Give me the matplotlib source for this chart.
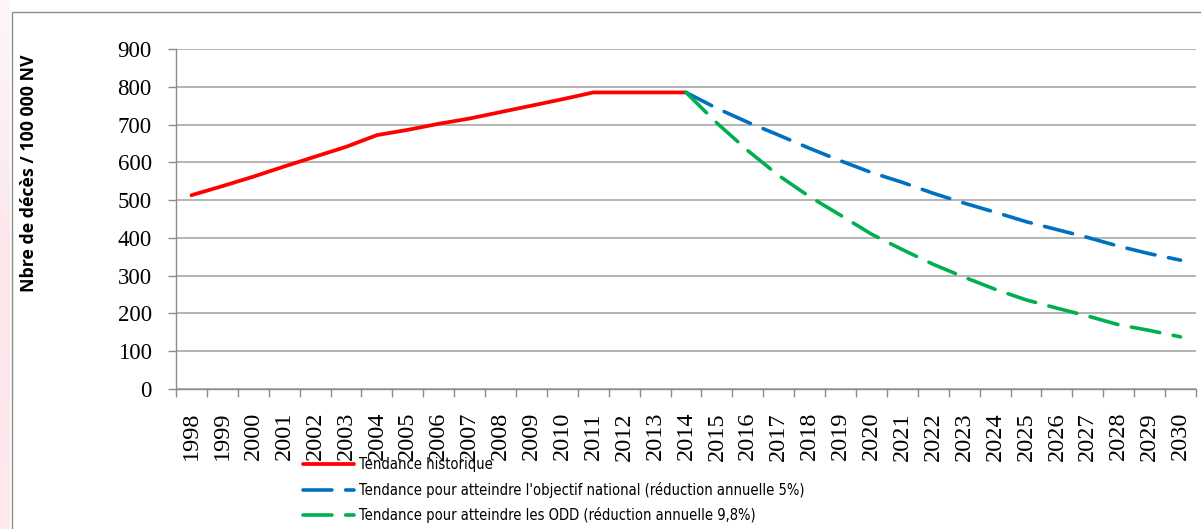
import numpy as np
import matplotlib.pyplot as plt
from matplotlib.lines import Line2D
from matplotlib.ticker import FixedLocator
from matplotlib.colors import LinearSegmentedColormap

# years on the category axis
years = list(range(1998, 2031))

# historical trend 1998-2014
hist_years = list(range(1998, 2015))
hist = [513, 537, 562, 589, 615, 641, 672, 686, 702, 716, 733, 750, 767, 785, 785, 785, 785]

# projections 2014-2030
proj_years = list(range(2014, 2031))
national = [785, 743, 706, 672, 637, 604, 573, 547, 518, 492, 468, 443, 422, 401, 378, 358, 341]
odd = [785, 704, 631, 565, 509, 460, 410, 369, 330, 296, 264, 236, 214, 193, 170, 155, 138]

labels = ["Tendance historique",
          "Tendance pour atteindre l'objectif national (réduction annuelle 5%)",
          "Tendance pour atteindre les ODD (réduction annuelle 9,8%)"]

W, H = 1201, 529
fig = plt.figure(figsize=(W / 100, H / 100), dpi=100)

# pink strip on the far left and the grey frame (left and top edges)
strip = fig.add_axes([0, 0, 10 / W, 1])
grad = np.linspace(0, 1, 100).reshape(-1, 1)
strip.imshow(grad, aspect='auto', extent=[0, 1, 0, 1],
             cmap=LinearSegmentedColormap.from_list('p', ['#fdf6f7', '#fbe6ea', '#fceaed']))
strip.axis('off')
x0, y0 = 11.5 / W, 1 - 11.5 / H
fig.add_artist(Line2D([x0, x0], [0, y0], transform=fig.transFigure, color='#8c8c8c', lw=1.0,
                      solid_capstyle='butt'))
fig.add_artist(Line2D([x0, 1], [y0, y0], transform=fig.transFigure, color='#8c8c8c', lw=1.0,
                      solid_capstyle='butt'))

ax = fig.add_axes([176 / W, 1 - 389 / H, (1196 - 176) / W, (389 - 49) / H])

xi = {y: i for i, y in enumerate(years)}
l1, = ax.plot([xi[y] for y in hist_years], hist, color='#ff0000', lw=2.7,
              solid_capstyle='round', zorder=3)
l2, = ax.plot([xi[y] for y in proj_years], national, color='#0070c0', lw=2.6,
              dashes=(8, 3.8), dash_capstyle='round', zorder=3)
l3, = ax.plot([xi[y] for y in proj_years], odd, color='#00b050', lw=2.6,
              dashes=(8, 3.8), dash_capstyle='round', zorder=3)

ax.set_xlim(-0.5, len(years) - 0.5)
ax.set_ylim(0, 900)
ax.set_yticks(range(0, 901, 100))
ax.yaxis.grid(True, color='#a0a0a0', lw=1.1)
ax.set_axisbelow(True)

ax.set_xticks(range(len(years)))
ax.set_xticklabels([str(y) for y in years], rotation=90, va='top')
ax.xaxis.set_minor_locator(FixedLocator(np.arange(-0.5, len(years), 1)))
ax.tick_params(axis='x', which='major', length=0, pad=16.5)
ax.tick_params(axis='x', which='minor', length=5.5, color='#8c8c8c', width=1.0)
ax.tick_params(axis='y', length=6, color='#8c8c8c', width=1.0, pad=11.5)

for lab in ax.get_xticklabels() + ax.get_yticklabels():
    lab.set_family('Liberation Serif')
for lab in ax.get_xticklabels():
    lab.set_fontsize(17.5)
for lab in ax.get_yticklabels():
    lab.set_fontsize(16.5)

for s in ['top', 'right']:
    ax.spines[s].set_visible(False)
for s in ['left', 'bottom']:
    ax.spines[s].set_color('#8c8c8c')
    ax.spines[s].set_linewidth(1.0)

fig.text(29 / W, 1 - 173 / H, 'Nbre de décès / 100 000 NV', rotation=90,
         ha='center', va='center', fontsize=12.8, fontweight='bold', family='Open Sans')

fig.legend([l1, l2, l3], labels, loc='upper left', bbox_to_anchor=(303 / W, 1 - 457 / H),
           frameon=False, borderpad=0, borderaxespad=0, handlelength=3.5,
           handletextpad=0.33, labelspacing=0.66,
           prop={'family': 'DejaVu Sans', 'stretch': 'condensed', 'size': 10.5})

fig.savefig('out.png', dpi=100)
